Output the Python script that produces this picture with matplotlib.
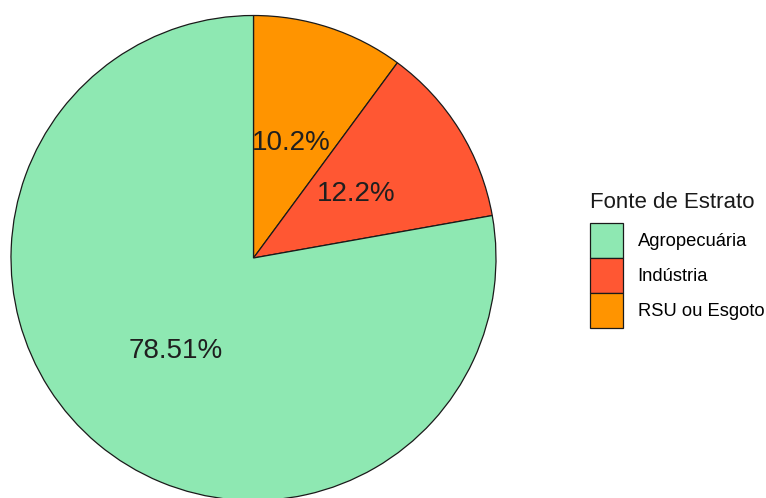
import numpy as np
import matplotlib
matplotlib.use("Agg")
from matplotlib import pyplot as plt

plt.rcParams['font.family'] = ['Liberation Sans', 'DejaVu Sans']

# fatias no sentido horario a partir do topo
fontes = ['RSU ou Esgoto', 'Indústria', 'Agropecuária']
valores = [10.2, 12.2, 78.51]
cores = ['#ff9400', '#ff5733', '#8ee8b2']
rotulos = ['10.2%', '12.2%', '78.51%']

# ordem da legenda
ordem_legenda = ['Agropecuária', 'Indústria', 'RSU ou Esgoto']

W, H = 766, 498
fig = plt.figure(figsize=(W / 100, H / 100), dpi=100)
ax = fig.add_axes([0, 0, 1, 1])

cx, cy, R = 253.5, H - 258, 242.5
wedges, _ = ax.pie(valores, colors=cores, startangle=90, counterclock=False,
                   center=(cx, cy), radius=R, frame=True,
                   wedgeprops=dict(edgecolor='#1a1a1a', linewidth=0.9))
ax.set_xlim(0, W)
ax.set_ylim(0, H)
ax.axis('off')

for w, txt in zip(wedges, rotulos):
    meio = np.deg2rad((w.theta1 + w.theta2) / 2)
    ax.text(cx + 0.5 * R * np.cos(meio), cy + 0.5 * R * np.sin(meio), txt,
            ha='center', va='center', fontsize=20, color='#1f1f1f')

# legenda: titulo separado para controlar o espaco ate as caixas
fig.text(590 / W, 1 - 203 / H, 'Fonte de Estrato', fontsize=16,
         ha='left', va='center', color='#1a1a1a')
handles = [wedges[fontes.index(f)] for f in ordem_legenda]
leg = fig.legend(handles, ordem_legenda,
                 loc='upper left', bbox_to_anchor=(590 / W, 1 - 223 / H),
                 bbox_transform=fig.transFigure, frameon=False,
                 fontsize=13.2, handlelength=1.8, handleheight=2.55,
                 handletextpad=0.8, labelspacing=0, borderpad=0,
                 borderaxespad=0)

fig.savefig('out.png', dpi=100)
